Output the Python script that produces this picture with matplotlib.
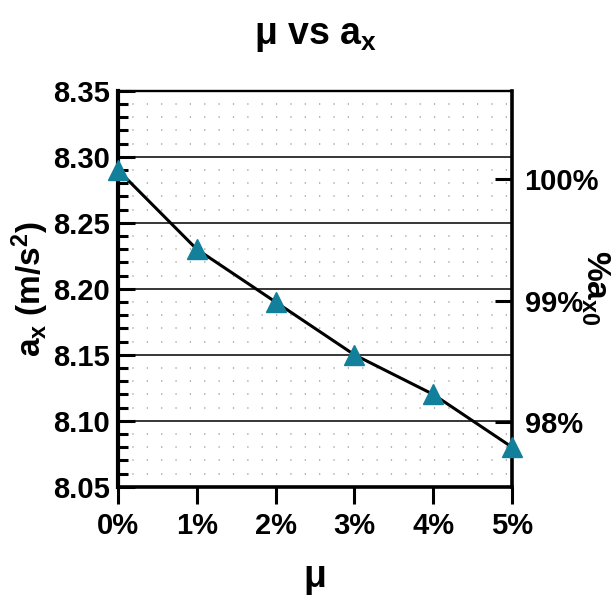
import matplotlib
matplotlib.use("Agg")
import matplotlib.pyplot as plt
from matplotlib.ticker import MultipleLocator, FixedLocator, FixedFormatter

plt.rcParams['font.family'] = ['Liberation Sans', 'DejaVu Sans']
plt.rcParams['font.weight'] = 'bold'
plt.rcParams['mathtext.fontset'] = 'custom'
plt.rcParams['mathtext.rm'] = 'Liberation Sans:bold'
plt.rcParams['mathtext.it'] = 'Liberation Sans:bold'
plt.rcParams['mathtext.bf'] = 'Liberation Sans:bold'

# data
mu_pct = [0, 1, 2, 3, 4, 5]
ax_vals = [8.29, 8.23, 8.19, 8.15, 8.12, 8.08]
x_ticks = [0, 1, 2, 3, 4, 5]
x_tick_labels = ['0%', '1%', '2%', '3%', '4%', '5%']
y_ticks = [8.05, 8.10, 8.15, 8.20, 8.25, 8.30, 8.35]
y_tick_labels = ['8.05', '8.10', '8.15', '8.20', '8.25', '8.30', '8.35']
right_ticks = [98, 99, 100]
right_tick_labels = ['98%', '99%', '100%']
right_lim = (97.47, 100.73)

fig = plt.figure(figsize=(6.14, 6.01), dpi=100)
ax = fig.add_axes([0.192, 0.190, 0.642, 0.659])

ax.set_xlim(0, 5)
ax.set_ylim(8.05, 8.35)

# grids
ax.yaxis.set_minor_locator(MultipleLocator(0.01))
ax.grid(axis='y', which='major', color='black', linewidth=1.1, zorder=1)
ax.grid(axis='y', which='minor', color='#a0a0a0', linewidth=1.1,
        linestyle=(0, (0.8, 8.6)), zorder=1)
ax.set_axisbelow(True)

ax.plot(mu_pct, ax_vals, color='black', linewidth=2.2, zorder=3, clip_on=False)
ax.plot(mu_pct, ax_vals, linestyle='none', marker='^', markersize=14,
        color='#12809a', zorder=4, clip_on=False)

ax.set_xticks(x_ticks)
ax.set_xticklabels(x_tick_labels)
ax.set_yticks(y_ticks)
ax.set_yticklabels(y_tick_labels)

ax.tick_params(axis='x', which='major', direction='out', length=12, width=2.2,
               labelsize=21, pad=6)
ax.tick_params(axis='y', which='major', direction='in', length=12, width=2.2,
               labelsize=21, pad=6)
ax.tick_params(axis='y', which='minor', direction='in', length=7, width=2.2)

for side, lw in [('left', 3.0), ('bottom', 2.6), ('top', 1.7), ('right', 2.6)]:
    ax.spines[side].set_linewidth(lw)
    ax.spines[side].set_color('black')

ax2 = ax.twinx()
ax2.set_ylim(*right_lim)
ax2.yaxis.set_major_locator(FixedLocator(right_ticks))
ax2.yaxis.set_major_formatter(FixedFormatter(right_tick_labels))
ax2.tick_params(axis='y', direction='in', length=12, width=2.2, labelsize=21, pad=9)
for side in ['left', 'bottom', 'top', 'right']:
    ax2.spines[side].set_visible(False)

ax.set_title('μ vs $a_x$', fontsize=27, fontweight='bold', pad=34)
ax.set_xlabel('μ', fontsize=27, fontweight='bold', labelpad=14)
ax.set_ylabel('$a_x$ (m/s$^2$)', fontsize=24, fontweight='bold', labelpad=1)
fig.text(595 / 614, 1 - 288 / 601, '%$a_{x0}$', fontsize=24, fontweight='bold',
         rotation=-90, ha='center', va='center')

fig.savefig('out.png', dpi=100)
